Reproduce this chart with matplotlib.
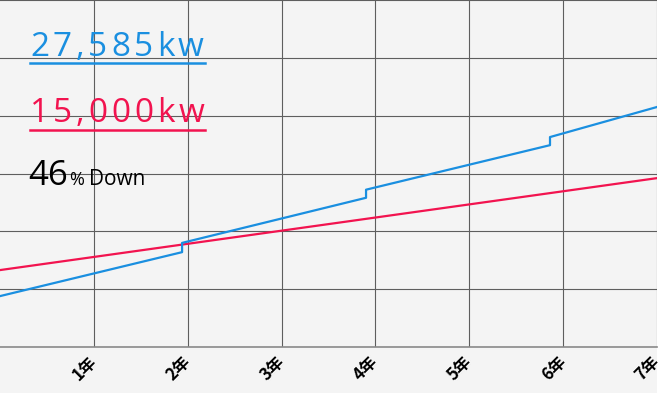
import matplotlib
matplotlib.use("Agg")
import matplotlib.pyplot as plt
from matplotlib.patches import Rectangle
from matplotlib.lines import Line2D

# data
years = [1, 2, 3, 4, 5, 6, 7]
year_labels = ["1年", "2年", "3年", "4年", "5年", "6年", "7年"]

blue_x = [0, 1.94, 1.94, 3.90, 3.90, 5.86, 5.86, 7]
blue_y = [0.88, 1.64, 1.80, 2.58, 2.72, 3.49, 3.63, 4.15]

red_x = [0, 7]
red_y = [1.33, 2.92]

blue_label = "27,585kw"
red_label = "15,000kw"
pct_value = "46"

blue = "#1a8fe0"
red = "#f2134f"
bg = "#f4f4f4"

W, H = 669, 393
fig = plt.figure(figsize=(W / 100, H / 100), dpi=100, facecolor="white")
fig.patches.append(Rectangle((0, 0), 657 / W, 1, transform=fig.transFigure,
                             facecolor=bg, edgecolor="none", zorder=-10))

ax = fig.add_axes([0, 46 / H, 657 / W, 1 - 46 / H])
ax.set_facecolor(bg)
ax.set_xlim(0, 7)
ax.set_ylim(0, 6)

ax.set_yticks(range(0, 7))
ax.set_xticks(years)
ax.grid(True, color="#5e5e5e", linewidth=0.8)
ax.set_axisbelow(True)
for s in ["top", "right", "left"]:
    ax.spines[s].set_visible(False)
ax.spines["bottom"].set_color("#8a8a8a")
ax.spines["bottom"].set_linewidth(1.2)
ax.tick_params(axis="y", left=False, labelleft=False)
ax.tick_params(axis="x", length=0, pad=9)
ax.set_xticklabels(year_labels, rotation=45, ha="right", va="center",
                   rotation_mode="anchor", fontweight="bold", fontsize=12,
                   family=["Noto Sans CJK JP", "DejaVu Sans"])

ax.plot(red_x, red_y, color=red, linewidth=1.6)
ax.plot(blue_x, blue_y, color=blue, linewidth=1.6)

renderer = fig.canvas.get_renderer()


def spaced_text(x_px, y_px, s, track, **kw):
    # draw characters one by one with extra letter spacing (pixels)
    x = x_px
    for ch in s:
        t = fig.text(x / W, 1 - y_px / H, ch, ha="left", va="baseline", **kw)
        x += t.get_window_extent(renderer).width + track
    return x


spaced_text(30, 56, blue_label, 3.8, color=blue, fontsize=24, family="Open Sans")
fig.lines.append(Line2D([30 / W, 205 / W], [1 - 63 / H, 1 - 63 / H],
                        transform=fig.transFigure, color=blue, linewidth=1.8))
spaced_text(30, 122, red_label, 3.8, color=red, fontsize=24, family="Open Sans")
fig.lines.append(Line2D([30 / W, 205 / W], [1 - 130 / H, 1 - 130 / H],
                        transform=fig.transFigure, color=red, linewidth=1.8))
fig.text(28 / W, 1 - 185 / H, pct_value, color="black", fontsize=25,
         family="Open Sans", fontweight="medium", ha="left", va="baseline")
fig.text(69 / W, 1 - 185 / H, "%", color="black", fontsize=13,
         family="Open Sans", ha="left", va="baseline")
fig.text(89 / W, 1 - 185 / H, "Down", color="black", fontsize=15,
         family="Open Sans", fontweight="medium", ha="left", va="baseline")

fig.savefig("out.png", dpi=100, facecolor=fig.get_facecolor())
